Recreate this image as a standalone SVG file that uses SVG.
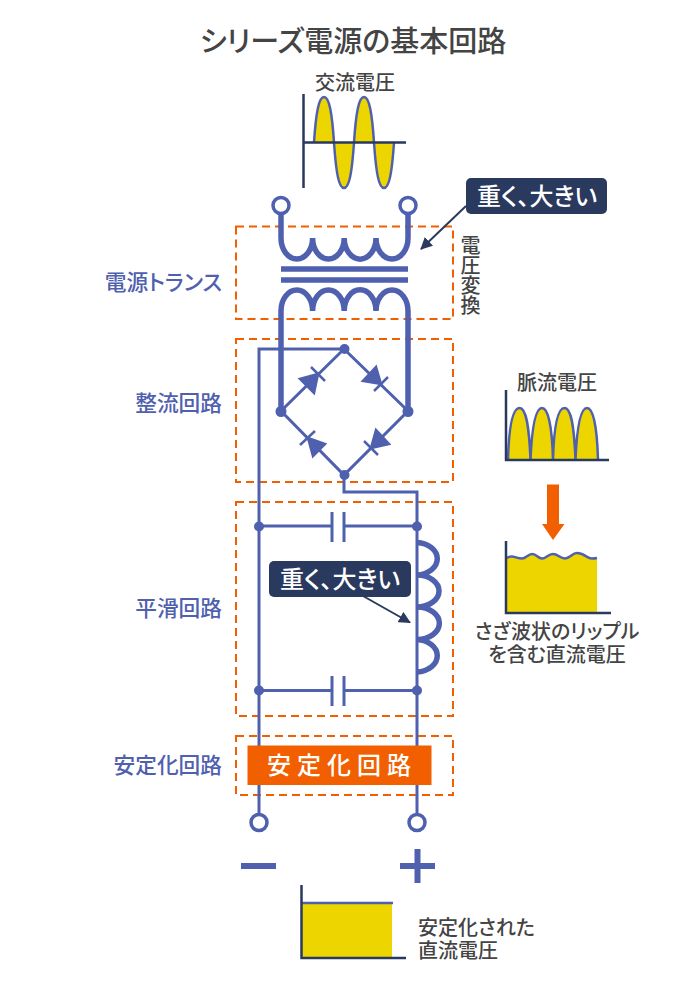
<svg xmlns="http://www.w3.org/2000/svg" width="700" height="1000" viewBox="0 0 700 1000">
<style>
text{font-family:"Noto Sans CJK JP","Noto Sans",sans-serif;fill:#444;font-size:20px;font-weight:500;font-feature-settings:"palt"}
.lab{fill:#4f60ae;text-anchor:end;font-size:21.7px}
.mid{text-anchor:middle}
.wire{fill:none;stroke:#4f60ae;stroke-width:3}
.coil{fill:none;stroke:#4f60ae;stroke-width:5.5}
.dash{fill:none;stroke:#f25f00;stroke-width:2;stroke-dasharray:8 5}
.axis{fill:none;stroke:#2a3a5e;stroke-width:2.5}
.fill{fill:#edd600}
.wave{fill:none;stroke:#4f60ae;stroke-width:2.5}
.dot{fill:#4f60ae}
.term{fill:#fff;stroke:#4f60ae;stroke-width:3.5}
.tag{fill:#2a3a5e}
.tagt{fill:#fff;font-size:24px;text-anchor:middle}
.lead{fill:none;stroke:#2a3a5e;stroke-width:2}
</style>
<defs>
<marker id="ah" markerUnits="userSpaceOnUse" markerWidth="12" markerHeight="12" refX="11" refY="6" orient="auto"><path d="M0 0L12 6L0 12Z" fill="#2a3a5e"/></marker>
</defs>
<text class="mid" x="353" y="52" style="font-size:29px" id="title">シリーズ電源の基本回路</text>

<g id="regions">
<rect class="dash" x="236" y="226.500" width="217" height="92.500"/>
<rect class="dash" x="236" y="339" width="217" height="143"/>
<rect class="dash" x="236" y="502" width="217" height="214"/>
<rect class="dash" x="236" y="736" width="217" height="59"/>
</g>
<g id="labels">
<text class="lab" x="222" y="290">電源トランス</text>
<text class="lab" x="222" y="411">整流回路</text>
<text class="lab" x="222" y="616">平滑回路</text>
<text class="lab" x="222" y="773">安定化回路</text>
</g>

<g id="connectors">
<path class="wire" d="M344 349H259V815"/>
<path class="wire" d="M344 475V492H417V815"/>
<path class="wire" d="M344 349L408 411L344 475L281 411Z"/>
<path class="wire" d="M259 526H332M344 526H417M259 690.500H332M344 690.500H417"/>
<path class="wire" d="M332 512V542M344 512V542M332 676V706M344 676V706"/>
<path class="coil" d="M281 213V238A15.800 21 0 0 0 312.600 238A15.800 21 0 0 0 344.200 238A15.800 21 0 0 0 376 238A16 21 0 0 0 408 238V213"/>
<path class="coil" d="M281 411V311A15.800 21 0 0 1 312.600 311A15.800 21 0 0 1 344.200 311A15.800 21 0 0 1 376 311A16 21 0 0 1 408 311V411"/>
<path d="M281 269H408M281 280H408" fill="none" stroke="#4f60ae" stroke-width="5.500"/>
<path class="coil" d="M417 542.500A22 16.300 0 0 1 417 575A22 16 0 0 1 417 607A22 16 0 0 1 417 639.500A22 16.300 0 0 1 417 672"/>
<path class="lead" d="M466 206L421 249" marker-end="url(#ah)"/>
<path class="lead" d="M363 596L410 622.500" marker-end="url(#ah)"/>
</g>

<g id="diodes" fill="#4f60ae" stroke="#4f60ae" stroke-width="2.500">
<path d="M311 367L325 381" fill="none"/><path d="M318 374L300 379L314 393Z"/>
<path d="M374 391L388 377" fill="none"/><path d="M381 384L376 367L363 381Z"/>
<path d="M300 445L315 431" fill="none"/><path d="M308 438L313 456L325 444Z"/>
<path d="M364 441L378 455" fill="none"/><path d="M371 448L376 430L389 444Z"/>
</g>

<g id="junctions">
<circle class="dot" cx="344.500" cy="349" r="5"/><circle class="dot" cx="281" cy="411.500" r="5.500"/><circle class="dot" cx="408" cy="411.500" r="5.500"/><circle class="dot" cx="344.500" cy="475" r="5"/>
<circle class="dot" cx="259" cy="526.500" r="5"/><circle class="dot" cx="417" cy="526.500" r="5"/><circle class="dot" cx="259" cy="690.500" r="5"/><circle class="dot" cx="417" cy="690.500" r="5"/>
</g>
<g id="terminals">
<circle class="term" cx="281" cy="205.500" r="8"/><circle class="term" cx="408" cy="205.500" r="8"/>
<circle class="term" cx="259" cy="822.500" r="8"/><circle class="term" cx="417" cy="822.500" r="8"/>
<path d="M241 866H276M400 866H435M417.500 849V883" fill="none" stroke="#4f60ae" stroke-width="6"/>
</g>

<g id="regulator">
<rect x="247.500" y="745.500" width="184" height="39.500" fill="#f25f00"/>
<text x="342" y="774" style="fill:#fff;font-size:24px;letter-spacing:6px;text-anchor:middle">安定化回路</text>
</g>
<g id="callout1"><rect class="tag" x="466" y="178" width="141" height="36" rx="5"/><text class="tagt" x="537" y="205">重く、大きい</text></g>
<g id="callout2"><rect class="tag" x="269" y="561" width="142" height="36" rx="5"/><text class="tagt" x="340" y="588">重く、大きい</text></g>

<g id="chart-ac">
<path class="fill" d="M314 142.500C316 112 319 97 324 97C329 97 332 112 334 142.500ZM354 142.500C356 112 359 97 364 97C369 97 372 112 374 142.500Z"/>
<path class="fill" d="M334 142.500C336 173 339 188 344 188C349 188 352 173 354 142.500ZM374 142.500C376 173 379 188 384 188C389 188 392 173 394 142.500Z"/>
<path class="wave" d="M314 142.500C316 112 319 97 324 97C329 97 332 112 334 142.500C336 173 339 188 344 188C349 188 352 173 354 142.500C356 112 359 97 364 97C369 97 372 112 374 142.500C376 173 379 188 384 188C389 188 392 173 394 142.500"/>
<path class="axis" d="M303.500 94V188M303 142.500H406"/>
<text class="mid" x="355" y="90">交流電圧</text>
</g>
<text x="470.500" y="235" style="writing-mode:vertical-rl;font-size:20px">電圧変換</text>

<g id="chart-pulse">
<path class="fill" d="M508 459.500C509 425 513 408 519.500 408C526 408 529 425 530.500 459.500C532 425 536 408 542 408C548 408 552 425 553 459.500C554 425 558 408 564.500 408C571 408 574 425 575.500 459.500C577 425 581 408 587 408C593 408 597 425 598 459.500Z"/>
<path class="wave" d="M508 459.500C509 425 513 408 519.500 408C526 408 529 425 530.500 459.500C532 425 536 408 542 408C548 408 552 425 553 459.500C554 425 558 408 564.500 408C571 408 574 425 575.500 459.500C577 425 581 408 587 408C593 408 597 425 598 459.500"/>
<path class="axis" d="M506 390V460H609"/>
<text class="mid" x="557" y="390">脈流電圧</text>
</g>
<path id="big-arrow" d="M547 484.500H559V524H564.500L553 540L542 524H547Z" fill="#f25f00"/>
<g id="chart-ripple">
<path class="fill" d="M507 558C512 554 516 558.500 522 558.500C526 558.500 528 554 532 554C537 554 538 558.500 542 558.500C546 558.500 548 554 553 554C558 554 560 558.500 565 558.500C570 558.500 572 553 577 553C584 553 587 558.500 592 558.500Q595 558.500 597 558V613H507Z"/>
<path class="wave" d="M507 558C512 554 516 558.500 522 558.500C526 558.500 528 554 532 554C537 554 538 558.500 542 558.500C546 558.500 548 554 553 554C558 554 560 558.500 565 558.500C570 558.500 572 553 577 553C584 553 587 558.500 592 558.500Q595 558.500 597 558"/>
<path class="axis" d="M506 541V613H611"/>
<text class="mid" x="557" y="639">さざ波状のリップル</text>
<text class="mid" x="557" y="662">を含む直流電圧</text>
</g>
<g id="chart-dc">
<rect class="fill" x="302" y="903" width="90" height="55"/>
<path class="wave" d="M302 903H393"/>
<path class="axis" d="M301.500 885V958H406"/>
<text x="418" y="935">安定化された</text>
<text x="418" y="958">直流電圧</text>
</g>
</svg>
